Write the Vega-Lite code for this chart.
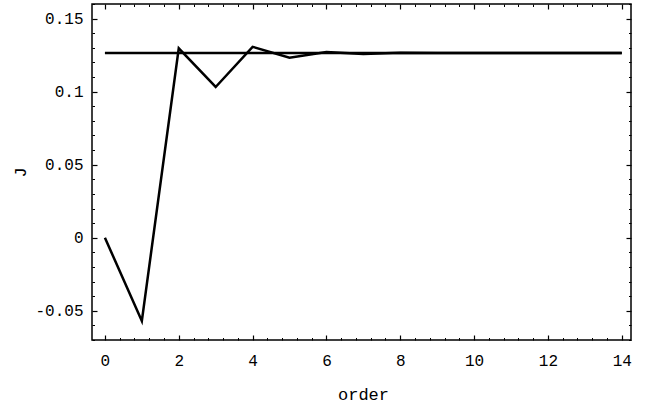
{
  "$schema": "https://vega.github.io/schema/vega-lite/v6.json",
  "width": 539,
  "height": 336,
  "autosize": "none",
  "padding": {"left": 92, "top": 4, "right": 18, "bottom": 65},
  "background": "white",
  "config": {
    "view": {"stroke": "black", "strokeWidth": 1.5},
    "axis": {"grid": false, "domain": false, "labelFont": "Liberation Mono", "titleFont": "Liberation Mono", "labelColor": "black", "titleColor": "black", "tickColor": "black", "titleFontWeight": "normal"}
  },
  "data": {
    "values": [
      {"order": 0, "J": 0.1265, "series": "limit"},
      {"order": 14, "J": 0.1265, "series": "limit"},
      {"order": 0, "J": 0.0, "series": "approx"},
      {"order": 1, "J": -0.057, "series": "approx"},
      {"order": 2, "J": 0.1297, "series": "approx"},
      {"order": 3, "J": 0.1032, "series": "approx"},
      {"order": 4, "J": 0.1307, "series": "approx"},
      {"order": 5, "J": 0.1232, "series": "approx"},
      {"order": 6, "J": 0.1272, "series": "approx"},
      {"order": 7, "J": 0.1258, "series": "approx"},
      {"order": 8, "J": 0.1267, "series": "approx"},
      {"order": 9, "J": 0.1264, "series": "approx"},
      {"order": 10, "J": 0.1265, "series": "approx"},
      {"order": 11, "J": 0.1265, "series": "approx"},
      {"order": 12, "J": 0.1265, "series": "approx"},
      {"order": 13, "J": 0.1265, "series": "approx"},
      {"order": 14, "J": 0.1265, "series": "approx"}
    ]
  },
  "resolve": {"axis": {"x": "independent", "y": "independent"}},
  "layer": [
    {
      "mark": {"type": "line", "color": "black", "strokeWidth": 2.5, "strokeJoin": "miter"},
      "encoding": {
        "x": {"field": "order", "type": "quantitative",
              "scale": {"domain": [-0.35, 14.25], "nice": false, "zero": false},
              "axis": {"orient": "bottom", "title": "order", "ticks": false, "labels": true,
                       "values": [0, 2, 4, 6, 8, 10, 12, 14], "labelFontSize": 16, "labelPadding": 12,
                       "titleFontSize": 17, "titleX": 271, "titleY": 54, "titleBaseline": "middle", "titleAlign": "center"}},
        "y": {"field": "J", "type": "quantitative",
              "scale": {"domain": [-0.07, 0.16], "nice": false, "zero": false},
              "axis": {"orient": "left", "title": "J", "ticks": false, "labels": true,
                       "values": [-0.05, 0, 0.05, 0.1, 0.15], "labelExpr": "'' + datum.value",
                       "labelFontSize": 16, "labelPadding": 9, "labelBaseline": "middle",
                       "titleFontSize": 17, "titleX": -72, "titleY": 168, "titleAngle": -90, "titleBaseline": "middle", "titleAlign": "center"}},
        "detail": {"field": "series", "type": "nominal"}
      }
    },
    {
      "mark": {"type": "line", "opacity": 0},
      "encoding": {
        "x": {"field": "order", "type": "quantitative",
              "axis": {"orient": "bottom", "title": null, "labels": false, "ticks": true, "tickSize": -5, "tickWidth": 1.2,
                       "values": [0, 2, 4, 6, 8, 10, 12, 14]}},
        "y": {"field": "J", "type": "quantitative",
              "axis": {"orient": "left", "title": null, "labels": false, "ticks": true, "tickSize": -5, "tickWidth": 1.2,
                       "values": [-0.05, 0, 0.05, 0.1, 0.15]}},
        "detail": {"field": "series", "type": "nominal"}
      }
    },
    {
      "mark": {"type": "line", "opacity": 0},
      "encoding": {
        "x": {"field": "order", "type": "quantitative",
              "axis": {"orient": "bottom", "title": null, "labels": false, "ticks": true, "tickSize": -2.5, "tickWidth": 1,
                       "values": [0.4, 0.8, 1.2, 1.6, 2.4, 2.8, 3.2, 3.6, 4.4, 4.8, 5.2, 5.6, 6.4, 6.8, 7.2, 7.6, 8.4, 8.8, 9.2, 9.6, 10.4, 10.8, 11.2, 11.6, 12.4, 12.8, 13.2, 13.6]}},
        "y": {"field": "J", "type": "quantitative",
              "axis": {"orient": "left", "title": null, "labels": false, "ticks": true, "tickSize": -2.5, "tickWidth": 1,
                       "values": [-0.07, -0.06, -0.04, -0.03, -0.02, -0.01, 0.01, 0.02, 0.03, 0.04, 0.06, 0.07, 0.08, 0.09, 0.11, 0.12, 0.13, 0.14, 0.16]}},
        "detail": {"field": "series", "type": "nominal"}
      }
    },
    {
      "mark": {"type": "line", "opacity": 0},
      "encoding": {
        "x": {"field": "order", "type": "quantitative",
              "axis": {"orient": "top", "title": null, "labels": false, "ticks": true, "tickSize": -5, "tickWidth": 1.2,
                       "values": [0, 2, 4, 6, 8, 10, 12, 14]}},
        "y": {"field": "J", "type": "quantitative",
              "axis": {"orient": "right", "title": null, "labels": false, "ticks": true, "tickSize": -5, "tickWidth": 1.2,
                       "values": [-0.05, 0, 0.05, 0.1, 0.15]}},
        "detail": {"field": "series", "type": "nominal"}
      }
    },
    {
      "mark": {"type": "line", "opacity": 0},
      "encoding": {
        "x": {"field": "order", "type": "quantitative",
              "axis": {"orient": "top", "title": null, "labels": false, "ticks": true, "tickSize": -2.5, "tickWidth": 1,
                       "values": [0.4, 0.8, 1.2, 1.6, 2.4, 2.8, 3.2, 3.6, 4.4, 4.8, 5.2, 5.6, 6.4, 6.8, 7.2, 7.6, 8.4, 8.8, 9.2, 9.6, 10.4, 10.8, 11.2, 11.6, 12.4, 12.8, 13.2, 13.6]}},
        "y": {"field": "J", "type": "quantitative",
              "axis": {"orient": "right", "title": null, "labels": false, "ticks": true, "tickSize": -2.5, "tickWidth": 1,
                       "values": [-0.07, -0.06, -0.04, -0.03, -0.02, -0.01, 0.01, 0.02, 0.03, 0.04, 0.06, 0.07, 0.08, 0.09, 0.11, 0.12, 0.13, 0.14, 0.16]}},
        "detail": {"field": "series", "type": "nominal"}
      }
    }
  ]
}
